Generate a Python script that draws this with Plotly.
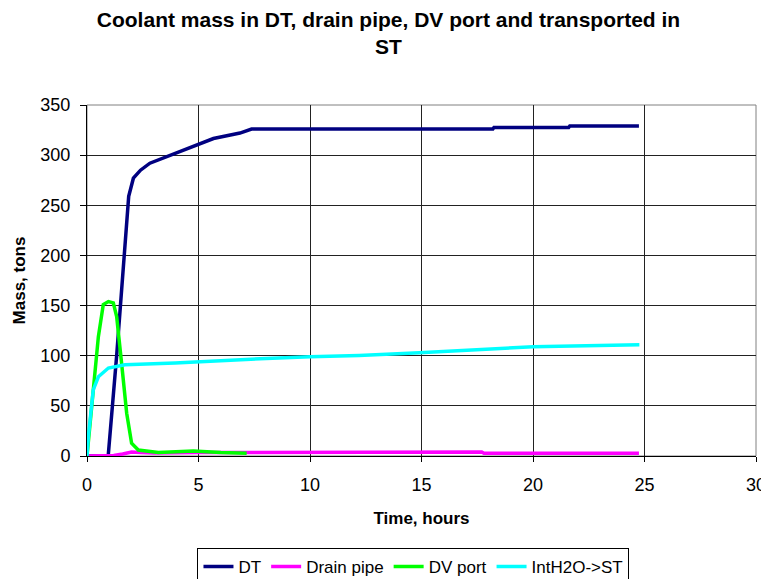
import plotly.graph_objects as go

# DT
dt_t = [0, 0.95, 1.33, 1.57, 1.66, 1.85, 1.87, 2.08, 2.4, 2.82, 3.72, 5.0, 5.67, 6.86, 7.38, 18.2, 18.25, 21.6, 21.65, 24.75]
dt_v = [0, 0, 100, 170, 200, 250, 259, 277, 285, 292, 300, 311, 316.6, 322, 326, 326, 327.5, 327.5, 329, 329]

# Drain pipe
dp_t = [0, 1.2, 1.6, 2.0, 2.4, 3.0, 5.0, 10.0, 15.0, 17.7, 17.8, 24.75]
dp_v = [0, 0.5, 2, 4, 3.5, 3, 3.5, 3.8, 4, 4, 2.7, 2.7]

# DV port
dv_t = [0, 0.21, 0.51, 0.73, 0.96, 1.18, 1.33, 1.55, 1.78, 2.0, 2.3, 3.2, 4.77, 6.0, 7.16]
dv_v = [0, 49, 119, 151, 154, 152.7, 139, 92.7, 42.7, 12.7, 6, 3.5, 5, 3.5, 2.7]

# IntH2O->ST
st_t = [0, 0.06, 0.28, 0.51, 0.96, 1.7, 3.95, 5.0, 7.76, 10, 12.2, 14.9, 20, 24.77]
st_v = [0, 19, 66, 79, 87.7, 91, 92.7, 94, 97, 99, 100.3, 103, 109, 111]

x_ticks = [0, 5, 10, 15, 20, 25, 30]
y_ticks = [0, 50, 100, 150, 200, 250, 300, 350]

FONT = "Liberation Sans, Arial, sans-serif"

fig = go.Figure()
series = [
    ("DT", dt_t, dt_v, "#000080"),
    ("Drain pipe", dp_t, dp_v, "#ff00ff"),
    ("DV port", dv_t, dv_v, "#00ff00"),
    ("IntH2O->ST", st_t, st_v, "#00ffff"),
]
for name, t, v, c in series:
    fig.add_trace(go.Scatter(x=t, y=v, mode="lines", name=name,
                             line=dict(color=c, width=3.5)))

# page body has an 8px margin, so the figure is 761x571 and offset by 8px
W, H = 761, 571
fig.update_layout(
    width=W, height=H,
    paper_bgcolor="white", plot_bgcolor="white",
    margin=dict(l=79, r=13, t=97, b=123, autoexpand=False),
    font=dict(family=FONT, color="black", size=18),
    title=dict(text="<b>Coolant mass in DT, drain pipe, DV port and transported in<br>ST</b>",
               x=0.5, xanchor="center", xref="container",
               y=1 - 18.5 / H, yanchor="middle", yref="container",
               font=dict(size=21, family=FONT, color="black")),
    legend=dict(orientation="h", x=0.488, xanchor="center", y=-0.262, yanchor="top",
                bordercolor="black", borderwidth=1, bgcolor="white",
                font=dict(size=17, family=FONT), itemwidth=30,
                traceorder="normal"),
    showlegend=True,
)
fig.update_xaxes(range=[0, 30], tickvals=x_ticks, ticktext=[str(v) for v in x_ticks],
                 showgrid=True, gridcolor="#222222", gridwidth=1,
                 showline=True, linecolor="black", linewidth=1,
                 ticks="outside", ticklen=5, tickcolor="black",
                 ticklabelstandoff=7,
                 zeroline=False, automargin=False,
                 title=dict(text="<b>Time, hours</b>", font=dict(size=17), standoff=18))
fig.update_yaxes(range=[0, 350], tickvals=y_ticks, ticktext=[str(v) for v in y_ticks],
                 showgrid=True, gridcolor="#222222", gridwidth=1,
                 showline=True, linecolor="black", linewidth=1,
                 ticks="outside", ticklen=6, tickcolor="black",
                 ticklabelstandoff=6,
                 zeroline=False, automargin=False,
                 title=dict(text="<b>Mass, tons</b>", font=dict(size=17), standoff=10))
fig.add_shape(type="rect", xref="paper", yref="paper", x0=0, y0=0, x1=1, y1=1,
              line=dict(color="#808080", width=1), layer="below")

fig.write_html("out.html")
